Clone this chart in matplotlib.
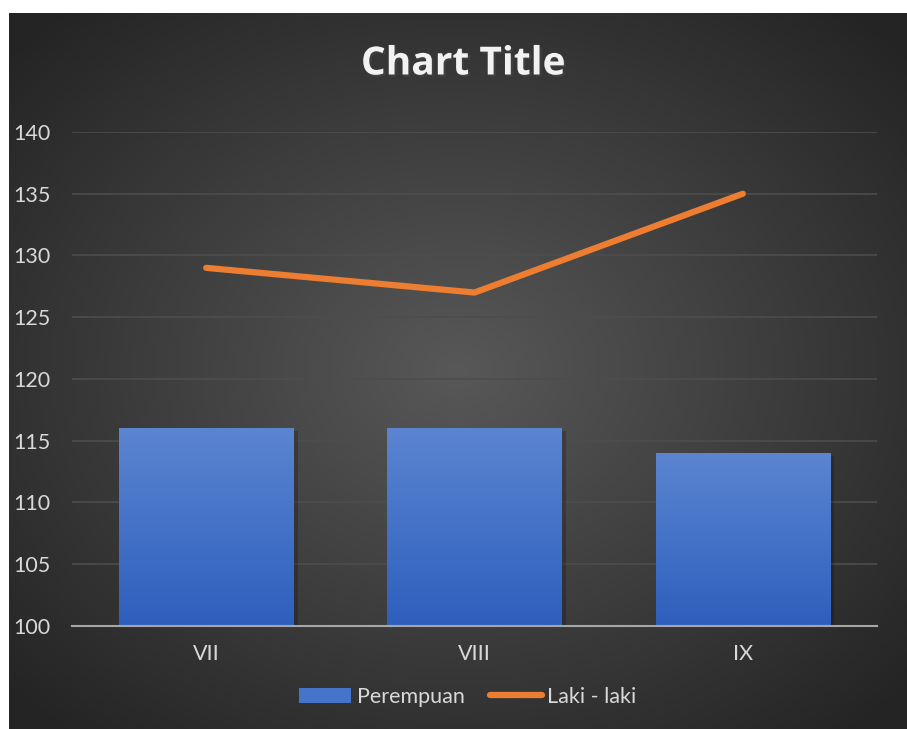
import numpy as np
import matplotlib
matplotlib.use("Agg")
from matplotlib import pyplot as plt
from matplotlib.patches import Patch
from matplotlib.lines import Line2D
import matplotlib.patheffects as pe

plt.rcParams['font.family'] = ['Lato', 'DejaVu Sans']

## data
categories = ["VII", "VIII", "IX"]
perempuan = [116, 116, 114]
laki_laki = [129, 127, 135]
y_ticks = [100, 105, 110, 115, 120, 125, 130, 135, 140]

fig = plt.figure(figsize=(9.07, 7.29), dpi=100)
fig.patch.set_facecolor("white")

## dark radial background panel
bg = fig.add_axes([9 / 907, 0, 898 / 907, 716 / 729])
gx, gy = np.meshgrid(np.linspace(-1, 1, 400), np.linspace(-1, 1, 320))
r = np.sqrt(gx ** 2 + gy ** 2)
r = np.clip(r / 1.35, 0, 1)
c0, c1 = np.array([0x58, 0x58, 0x58]) / 255, np.array([0x24, 0x24, 0x24]) / 255
img = c0[None, None, :] * (1 - r[..., None]) + c1[None, None, :] * r[..., None]
bg.imshow(img, aspect="auto", extent=[0, 1, 0, 1], origin="lower")
bg.set_axis_off()

## main chart
ax = fig.add_axes([72 / 907, (729 - 626) / 729, (877 - 72) / 907, (626 - 132) / 729])
ax.patch.set_alpha(0)
x = np.arange(len(categories))

bars = ax.bar(x, [v - 100 for v in perempuan], bottom=100, width=0.65,
              color="#3a67c4", zorder=2,
              path_effects=[pe.SimplePatchShadow(offset=(3, -2), shadow_rgbFace="black", alpha=0.2),
                            pe.Normal()])

# vertical gradient inside the bars
grad = np.linspace(0, 1, 100)[:, None]
top, bot = np.array([0x5b, 0x85, 0xd1]) / 255, np.array([0x2e, 0x5f, 0xbd]) / 255
gimg = bot[None, None, :] * (1 - grad[..., None]) + top[None, None, :] * grad[..., None]
for b in bars:
    x0, w = b.get_x(), b.get_width()
    ax.imshow(gimg, aspect="auto", origin="lower",
              extent=[x0, x0 + w, 100, b.get_y() + b.get_height()], zorder=3)

ax.plot(x, laki_laki, color="#ed7d31", lw=4.5, solid_capstyle="round", zorder=4)

ax.set_xlim(-0.5, len(categories) - 0.5)
ax.set_ylim(100, 140)
ax.set_yticks(y_ticks)
ax.set_xticks(x)
ax.set_xticklabels(categories)
ax.tick_params(axis="both", length=0, colors="#d9d9d9", labelsize=15.5)
ax.tick_params(axis="y", pad=42)
ax.tick_params(axis="x", pad=13)
for lab in ax.get_yticklabels():
    lab.set_horizontalalignment("left")
ax.grid(axis="y", color="#4d4d4d", lw=1.2, zorder=0)
for s in ["top", "right", "left"]:
    ax.spines[s].set_visible(False)
ax.spines["bottom"].set_color("#a6a6a6")
ax.spines["bottom"].set_linewidth(1.5)
ax.spines["bottom"].set_zorder(5)

fig.text(463 / 907, 1 - 64 / 729, "Chart Title", ha="center", va="center",
         color="#f2f2f2", fontsize=28, fontweight="bold", family=["Open Sans", "DejaVu Sans"],
         path_effects=[pe.withSimplePatchShadow(offset=(1.5, -1.5), alpha=0.5)])

handles = [Patch(facecolor="#4674cb", edgecolor="none"),
           Line2D([0], [0], color="#ed7d31", lw=4.5, solid_capstyle="round")]
leg = fig.legend(handles, ["Perempuan", "Laki - laki"], loc="center",
                 bbox_to_anchor=(468 / 907, 1 - 697 / 729), ncol=2, frameon=False,
                 fontsize=15.5, labelcolor="#d9d9d9", handlelength=2.4,
                 handletextpad=0.25, columnspacing=1.2)

plt.savefig("out.png", dpi=100, facecolor=fig.get_facecolor())
